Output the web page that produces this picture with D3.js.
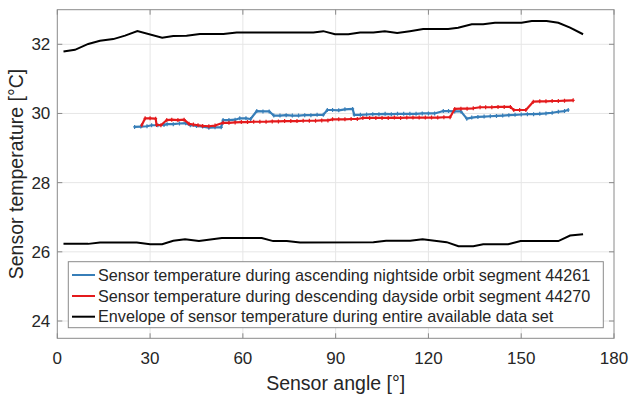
<!DOCTYPE html>
<html>
<head>
<meta charset="utf-8">
<script src="https://cdn.jsdelivr.net/npm/d3@7"></script>
<style>
  html, body { margin: 0; padding: 0; background: #fff; }
  svg { display: block; font-family: "Liberation Sans", Arial, Helvetica, sans-serif; }
</style>
</head>
<body>
<svg id="chart" width="630" height="395"></svg>
<script>
// Ascending nightside orbit segment 44261: sensor angle [°] and temperature [°C]
const ascAngle = [25, 27, 29, 30.5, 32.5, 34.5, 35.5, 37.5, 39.5, 41.5, 43, 45, 47, 49, 51, 53,
  53.6, 55.5, 57.5, 59, 61, 62.5, 64.5, 66.5, 68.5, 70, 72, 74, 76, 78, 80, 82, 84, 86,
  87.3, 89, 91, 93, 95.5, 96, 98, 100, 102, 104, 106, 108, 110, 112, 114, 116, 118, 120, 122,
  124.8, 126.5, 128.5, 130.5, 132.4, 134, 136, 138, 140, 142, 144, 146, 148, 150, 152, 154,
  156, 158, 160, 162, 164, 165.2];
const ascTemp = [29.61, 29.62, 29.63, 29.66, 29.66, 29.67, 29.69, 29.69, 29.71, 29.72, 29.66, 29.64, 29.62, 29.59, 29.60, 29.60,
  29.81, 29.81, 29.82, 29.86, 29.86, 29.84, 30.07, 30.06, 30.06, 29.94, 29.94, 29.95, 29.94, 29.94, 29.95, 29.95, 29.96, 29.96,
  30.10, 30.10, 30.09, 30.12, 30.13, 29.96, 29.96, 29.97, 29.98, 29.98, 29.99, 29.98, 29.99, 29.99, 29.99, 29.99, 30.00, 30.00, 30.00,
  30.07, 30.07, 30.06, 30.06, 29.85, 29.88, 29.90, 29.91, 29.92, 29.93, 29.94, 29.95, 29.96, 29.97, 29.98, 29.98,
  29.99, 30.00, 30.02, 30.05, 30.07, 30.10];

// Descending dayside orbit segment 44270
const descAngle = [27.3, 28.4, 30, 31.8, 32.1, 33.5, 35.4, 37, 39, 41, 42.6, 44, 45.5, 47, 49, 51,
  53.6, 55.5, 57.5, 59.5, 61.5, 63.5, 65.5, 67.5, 69.5, 71.5, 73.5, 75.5, 77.5, 79.5, 81.5, 83.5, 85.5, 87.5,
  89, 91, 93, 95, 97, 98.8, 101, 103, 105, 107, 109, 111, 113, 115, 117, 119, 121, 123, 125, 127,
  128.5, 130.5, 132.5, 134.5, 136.7, 138.5, 140.5, 142.5, 144.5, 146.5, 147.6, 149.5, 151.5,
  153.9, 156, 158, 160, 162, 164, 166.8];
const descTemp = [29.66, 29.86, 29.86, 29.85, 29.67, 29.66, 29.81, 29.82, 29.81, 29.82, 29.70, 29.68, 29.66, 29.64, 29.63, 29.65,
  29.73, 29.73, 29.74, 29.75, 29.75, 29.76, 29.76, 29.76, 29.77, 29.77, 29.78, 29.78, 29.78, 29.79, 29.79, 29.79, 29.80, 29.80,
  29.83, 29.83, 29.83, 29.84, 29.84, 29.87, 29.87, 29.87, 29.87, 29.87, 29.88, 29.87, 29.88, 29.88, 29.88, 29.88, 29.88, 29.88, 29.89, 29.89,
  30.13, 30.14, 30.14, 30.15, 30.18, 30.18, 30.18, 30.19, 30.19, 30.19, 30.10, 30.10, 30.10,
  30.34, 30.35, 30.35, 30.36, 30.36, 30.37, 30.38];

// Envelope over the entire data set: upper and lower bound
const envUpperAngle = [2, 5.7, 10, 13.8, 18.1, 21.9, 25.9, 33.9, 37.5, 41.8, 46.1, 53.7, 58, 82.8, 86,
  89.8, 94.1, 97.9, 102.2, 105.9, 109.9, 114, 118.3, 126.4, 129.6, 134, 137.7, 141.5, 150.1,
  153.4, 158.2, 162, 165.8, 170];
const envUpperTemp = [31.79, 31.84, 32.01, 32.10, 32.15, 32.25, 32.38, 32.19, 32.24, 32.25, 32.30, 32.30, 32.34, 32.34, 32.38,
  32.29, 32.29, 32.34, 32.34, 32.38, 32.33, 32.38, 32.44, 32.44, 32.48, 32.58, 32.58, 32.62, 32.62,
  32.67, 32.67, 32.62, 32.48, 32.29];
const envLowerAngle = [2, 10, 13.8, 25.7, 30, 33.9, 37.5, 41.3, 45.8, 53.2, 66.1, 69.8, 74.2, 78.5,
  102.2, 106.3, 114.1, 118.1, 125.9, 129.7, 134.5, 137.7, 145.8, 149.8, 162, 165.8, 170];
const envLowerTemp = [26.23, 26.23, 26.27, 26.27, 26.22, 26.22, 26.32, 26.36, 26.31, 26.40, 26.40, 26.31, 26.31, 26.27,
  26.28, 26.32, 26.32, 26.36, 26.28, 26.16, 26.16, 26.22, 26.22, 26.31, 26.31, 26.47, 26.51];

const xTicks = [0, 30, 60, 90, 120, 150, 180];
const yTicks = [24, 26, 28, 30, 32];

const legendLabels = [
  "Sensor temperature during ascending nightside orbit segment 44261",
  "Sensor temperature during descending dayside orbit segment 44270",
  "Envelope of sensor temperature during entire available data set"
];

const zip = (a, b) => a.map((v, i) => [v, b[i]]);

const svg = d3.select("#chart");
const plotL = 57.3, plotR = 614, plotT = 9.7, plotB = 338.3;
const axisColor = "#8a8a8a", textColor = "#262626", gridColor = "#e6e6e6";
const blue = "#377eb8", red = "#e41a1c", black = "#000000";

const x = d3.scaleLinear().domain([0, 180]).range([plotL, plotR]);
const y = d3.scaleLinear().domain([23.5, 33]).range([plotB, plotT]);

// grid
const grid = svg.append("g");
grid.selectAll(".gx").data(xTicks.slice(1, -1)).join("line")
  .attr("x1", d => x(d)).attr("x2", d => x(d)).attr("y1", plotT).attr("y2", plotB)
  .attr("stroke", gridColor).attr("stroke-width", 1);
grid.selectAll(".gy").data(yTicks).join("line")
  .attr("x1", plotL).attr("x2", plotR).attr("y1", d => y(d)).attr("y2", d => y(d))
  .attr("stroke", gridColor).attr("stroke-width", 1);

// data lines
const line = d3.line().x(d => x(d[0])).y(d => y(d[1]));
const plot = svg.append("g");

plot.append("path").datum(zip(envUpperAngle, envUpperTemp))
  .attr("d", line).attr("fill", "none").attr("stroke", black).attr("stroke-width", 2);
plot.append("path").datum(zip(envLowerAngle, envLowerTemp))
  .attr("d", line).attr("fill", "none").attr("stroke", black).attr("stroke-width", 2);

function series(data, color) {
  plot.append("path").datum(data)
    .attr("d", line).attr("fill", "none").attr("stroke", color).attr("stroke-width", 2.2)
    .attr("stroke-linejoin", "round");
  plot.append("g").selectAll("path").data(data).join("path")
    .attr("d", d => `M${x(d[0]) - 1.5},${y(d[1])}h3M${x(d[0])},${y(d[1]) - 2}v4`)
    .attr("stroke", color).attr("stroke-width", 1.2).attr("fill", "none");
}
series(zip(ascAngle, ascTemp), blue);
series(zip(descAngle, descTemp), red);

// axes box with inward ticks on all sides
const axes = svg.append("g").attr("fill", "none").attr("stroke", axisColor).attr("stroke-width", 1);
axes.append("rect").attr("x", plotL).attr("y", plotT).attr("width", plotR - plotL).attr("height", plotB - plotT);
const tickLen = 5;
xTicks.forEach(t => {
  axes.append("line").attr("x1", x(t)).attr("x2", x(t)).attr("y1", plotB).attr("y2", plotB - tickLen);
  axes.append("line").attr("x1", x(t)).attr("x2", x(t)).attr("y1", plotT).attr("y2", plotT + tickLen);
});
yTicks.forEach(t => {
  axes.append("line").attr("x1", plotL).attr("x2", plotL + tickLen).attr("y1", y(t)).attr("y2", y(t));
  axes.append("line").attr("x1", plotR).attr("x2", plotR - tickLen).attr("y1", y(t)).attr("y2", y(t));
});

// tick labels
svg.append("g").selectAll("text").data(xTicks).join("text")
  .attr("x", d => x(d)).attr("y", 364).attr("text-anchor", "middle")
  .attr("font-size", 17).attr("fill", textColor).text(d => d);
svg.append("g").selectAll("text").data(yTicks).join("text")
  .attr("x", plotL - 7).attr("y", d => y(d)).attr("dy", "0.35em").attr("text-anchor", "end")
  .attr("font-size", 17).attr("fill", textColor).text(d => d);

// axis titles
svg.append("text").attr("x", (plotL + plotR) / 2).attr("y", 390).attr("text-anchor", "middle")
  .attr("font-size", 19.5).attr("fill", textColor).text("Sensor angle [°]");
svg.append("text").attr("transform", `translate(23,${(plotT + plotB) / 2}) rotate(-90)`)
  .attr("text-anchor", "middle").attr("font-size", 19.5).attr("fill", textColor)
  .text("Sensor temperature [°C]");

// legend
const lg = svg.append("g");
lg.append("rect").attr("x", 68.3).attr("y", 261.7).attr("width", 535).attr("height", 66)
  .attr("fill", "#fff").attr("stroke", axisColor).attr("stroke-width", 1);
const legendColors = [blue, red, black];
const rowY = [275, 296, 316.7];
legendLabels.forEach((lab, i) => {
  lg.append("line").attr("x1", 72).attr("x2", 95).attr("y1", rowY[i]).attr("y2", rowY[i])
    .attr("stroke", legendColors[i]).attr("stroke-width", 2);
  lg.append("text").attr("x", 98).attr("y", rowY[i]).attr("dy", "0.35em")
    .attr("font-size", 16.2).attr("fill", textColor).text(lab);
});
</script>
</body>
</html>
